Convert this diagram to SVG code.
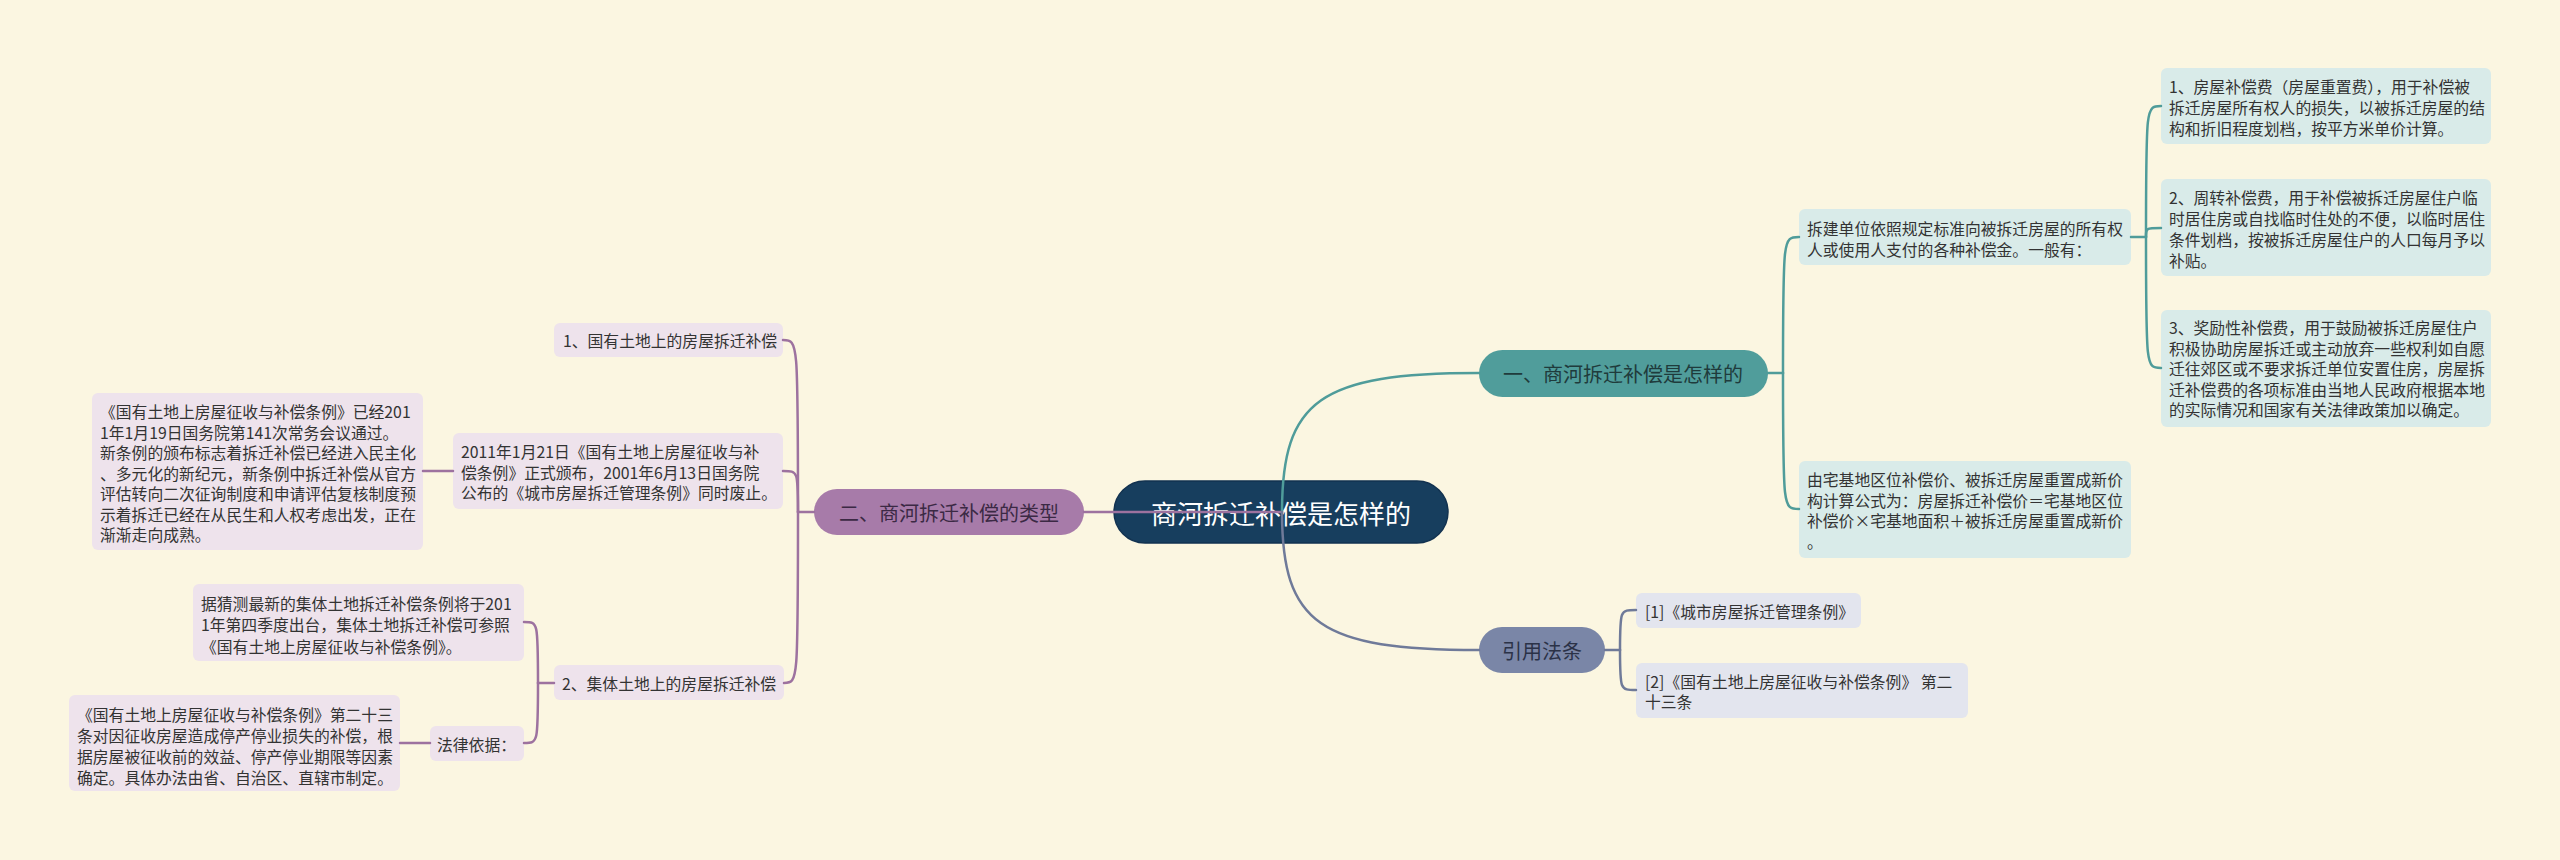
<svg xmlns="http://www.w3.org/2000/svg" width="2560" height="860" viewBox="0 0 2560 860">
<style>
text{font-family:"Noto Sans CJK SC","Noto Sans",sans-serif;dominant-baseline:central}
.t{font-size:15.8px;fill:#333333}
.m{font-size:20px}
.c{fill:none;stroke-width:2.5;stroke-linecap:round}
.teal{stroke:#4f9c9a}
.pur{stroke:#9d729f}
.sl{stroke:#6f7a99}
.bt{fill:#d9ebe9}
.bp{fill:#eee3ec}
.bs{fill:#e3e5ee}
</style>
<rect width="2560" height="860" fill="#fbf6e1"/>

<g id="root">
<rect x="1114" y="481" width="334" height="62" rx="31" fill="#173e5e" stroke="#123250" stroke-width="1.5"/>
<text x="1281" y="512" text-anchor="middle" style="font-size:26px;fill:#ffffff">商河拆迁补偿是怎样的</text>
</g>

<g id="n1">
<rect x="1479" y="350" width="289" height="47" rx="23.5" fill="#509d9b"/>
<text class="m" x="1623" y="373" text-anchor="middle" fill="#1f3b3c">一、商河拆迁补偿是怎样的</text>
</g>
<g id="n1a">
<rect class="bt" x="1799" y="209" width="332" height="56" rx="6"/>
<text class="t" x="1807" y="228">拆建单位依照规定标准向被拆迁房屋的所有权</text>
<text class="t" x="1807" y="249">人或使用人支付的各种补偿金。一般有：</text>
</g>
<g id="n1a1">
<rect class="bt" x="2161" y="68" width="330" height="76" rx="6"/>
<text class="t" x="2169" y="86">1、房屋补偿费（房屋重置费），用于补偿被</text>
<text class="t" x="2169" y="107">拆迁房屋所有权人的损失，以被拆迁房屋的结</text>
<text class="t" x="2169" y="128">构和折旧程度划档，按平方米单价计算。</text>
</g>
<g id="n1a2">
<rect class="bt" x="2161" y="179" width="330" height="97" rx="6"/>
<text class="t" x="2169" y="197">2、周转补偿费，用于补偿被拆迁房屋住户临</text>
<text class="t" x="2169" y="218">时居住房或自找临时住处的不便，以临时居住</text>
<text class="t" x="2169" y="239">条件划档，按被拆迁房屋住户的人口每月予以</text>
<text class="t" x="2169" y="260">补贴。</text>
</g>
<g id="n1a3">
<rect class="bt" x="2161" y="310" width="330" height="117" rx="6"/>
<text class="t" x="2169" y="327.5">3、奖励性补偿费，用于鼓励被拆迁房屋住户</text>
<text class="t" x="2169" y="348">积极协助房屋拆迁或主动放弃一些权利如自愿</text>
<text class="t" x="2169" y="368.5">迁往郊区或不要求拆迁单位安置住房，房屋拆</text>
<text class="t" x="2169" y="389">迁补偿费的各项标准由当地人民政府根据本地</text>
<text class="t" x="2169" y="409.5">的实际情况和国家有关法律政策加以确定。</text>
</g>
<g id="n1b">
<rect class="bt" x="1799" y="461" width="332" height="97" rx="6"/>
<text class="t" x="1807" y="479.5">由宅基地区位补偿价、被拆迁房屋重置成新价</text>
<text class="t" x="1807" y="500">构计算公式为：房屋拆迁补偿价＝宅基地区位</text>
<text class="t" x="1807" y="520.5">补偿价×宅基地面积＋被拆迁房屋重置成新价</text>
<text class="t" x="1807" y="541">。</text>
</g>

<g id="n3">
<rect x="1479" y="627" width="126" height="46" rx="23" fill="#7a86a7"/>
<text class="m" x="1542" y="650" text-anchor="middle" fill="#2b3247">引用法条</text>
</g>
<g id="n3a">
<rect class="bs" x="1636" y="593" width="225" height="35" rx="6"/>
<text class="t" x="1645" y="611">[1]《城市房屋拆迁管理条例》</text>
</g>
<g id="n3b">
<rect class="bs" x="1636" y="663" width="332" height="55" rx="6"/>
<text class="t" x="1645" y="681">[2]《国有土地上房屋征收与补偿条例》 第二</text>
<text class="t" x="1645" y="701.5">十三条</text>
</g>

<g id="n2">
<rect x="814" y="489" width="270" height="46" rx="23" fill="#a77ba9"/>
<text class="m" x="949" y="512" text-anchor="middle" fill="#3b2944">二、商河拆迁补偿的类型</text>
</g>
<g id="n2a">
<rect class="bp" x="554" y="323" width="229" height="34" rx="6"/>
<text class="t" x="563" y="340.5">1、国有土地上的房屋拆迁补偿</text>
</g>
<g id="n2a1">
<rect class="bp" x="453" y="433" width="330" height="76" rx="6"/>
<text class="t" x="461" y="451.5">2011年1月21日《国有土地上房屋征收与补</text>
<text class="t" x="461" y="472">偿条例》正式颁布，2001年6月13日国务院</text>
<text class="t" x="461" y="492.5">公布的《城市房屋拆迁管理条例》同时废止。</text>
</g>
<g id="n2a2">
<rect class="bp" x="92" y="393" width="331" height="157" rx="6"/>
<text class="t" x="100" y="411.5">《国有土地上房屋征收与补偿条例》已经201</text>
<text class="t" x="100" y="432">1年1月19日国务院第141次常务会议通过。</text>
<text class="t" x="100" y="452.5">新条例的颁布标志着拆迁补偿已经进入民主化</text>
<text class="t" x="100" y="473">、多元化的新纪元，新条例中拆迁补偿从官方</text>
<text class="t" x="100" y="493.5">评估转向二次征询制度和申请评估复核制度预</text>
<text class="t" x="100" y="514">示着拆迁已经在从民生和人权考虑出发，正在</text>
<text class="t" x="100" y="534.5">渐渐走向成熟。</text>
</g>
<g id="n2b">
<rect class="bp" x="554" y="665" width="230" height="35" rx="6"/>
<text class="t" x="562" y="683">2、集体土地上的房屋拆迁补偿</text>
</g>
<g id="n2b1">
<rect class="bp" x="193" y="584" width="331" height="77" rx="6"/>
<text class="t" x="201" y="603">据猜测最新的集体土地拆迁补偿条例将于201</text>
<text class="t" x="201" y="624.5">1年第四季度出台，集体土地拆迁补偿可参照</text>
<text class="t" x="201" y="646">《国有土地上房屋征收与补偿条例》。</text>
</g>
<g id="n2b2">
<rect class="bp" x="430" y="726" width="94" height="35" rx="6"/>
<text class="t" x="437" y="744">法律依据：</text>
</g>
<g id="n2b2a">
<rect class="bp" x="69" y="695" width="331" height="96" rx="6"/>
<text class="t" x="77" y="714">《国有土地上房屋征收与补偿条例》第二十三</text>
<text class="t" x="77" y="735">条对因征收房屋造成停产停业损失的补偿，根</text>
<text class="t" x="77" y="756">据房屋被征收前的效益、停产停业期限等因素</text>
<text class="t" x="77" y="777">确定。具体办法由省、自治区、直辖市制定。</text>
</g>

<g id="connectors">
<path class="c pur" d="M1282,512 H1084"/>
<path class="c teal" d="M1282,512 C1282,400 1320,373 1479,373"/>
<path class="c sl" d="M1282,512 C1282,624 1320,650 1479,650"/>

<path class="c teal" d="M1768,373 H1783"/>
<path class="c teal" d="M1783,373 C1783,237 1783,237 1799,237"/>
<path class="c teal" d="M1783,373 C1783,509 1783,509 1799,509"/>

<path class="c teal" d="M2131,237 H2146"/>
<path class="c teal" d="M2146,237 C2146,106 2146,106 2161,106"/>
<path class="c teal" d="M2146,237 C2146,228 2146,228 2161,228"/>
<path class="c teal" d="M2146,237 C2146,368 2146,368 2161,368"/>

<path class="c sl" d="M1605,650 H1620"/>
<path class="c sl" d="M1620,650 C1620,610 1620,610 1636,610"/>
<path class="c sl" d="M1620,650 C1620,690 1620,690 1636,690"/>

<path class="c pur" d="M814,512 H798"/>
<path class="c pur" d="M798,512 C798,340 798,340 783,340"/>
<path class="c pur" d="M798,512 C798,471 798,471 783,471"/>
<path class="c pur" d="M798,512 C798,683 798,683 784,683"/>

<path class="c pur" d="M453,471 H423"/>

<path class="c pur" d="M554,683 H538"/>
<path class="c pur" d="M538,683 C538,622 538,622 524,622"/>
<path class="c pur" d="M538,683 C538,743 538,743 524,743"/>

<path class="c pur" d="M430,743 H400"/>
</g>
</svg>
